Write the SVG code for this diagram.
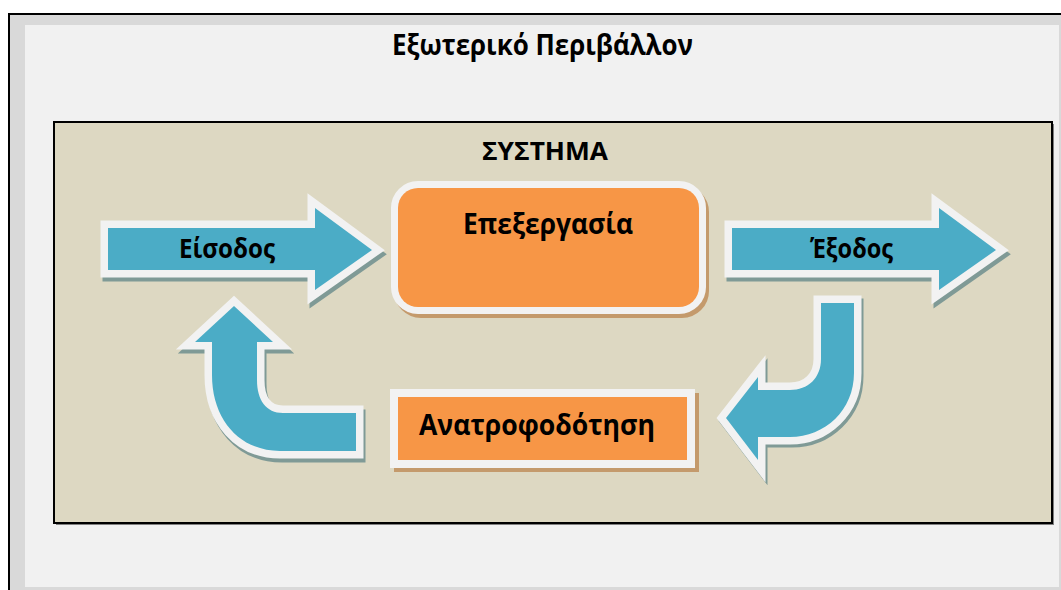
<svg xmlns="http://www.w3.org/2000/svg" width="1061" height="590" viewBox="0 0 1061 590">
  <style>
    .lbl { font-family: "Open Sans", "Noto Sans", "DejaVu Sans", sans-serif; font-weight: bold; fill: #000; }
    .arrow { fill: #4bacc6; stroke: #f2f2f2; stroke-width: 15; paint-order: stroke; stroke-linejoin: miter; stroke-miterlimit: 10; }
    .ashadow { fill: #7f9a96; stroke: #7f9a96; stroke-width: 15; stroke-linejoin: miter; stroke-miterlimit: 10; }
    .box { fill: #f79646; stroke: #f2f2f2; paint-order: stroke; }
    .bshadow { fill: #c49a6c; stroke: #c49a6c; }
  </style>
  <defs>
    <path id="straightArrow" d="M108,228 H315 V208 L372,250 L315,290 V270 H108 Z"/>
    <path id="curveLeft" d="M356,413 H283 C266,413 257,400 257,380 V342 H273 L234,306 L195,342 H212 V375 C212,420 240,451 280,451 H356 Z"/>
    <path id="curveRight" d="M821,303 H854 V373 C854,410 825,437 790,437 H758 V460 L726,418 L758,377 V390 H790 C808,390 821,378 821,359 Z"/>
  </defs>

  <!-- outer frame -->
  <g id="environment">
    <rect x="0" y="0" width="1061" height="590" fill="#ffffff"/>
    <rect x="9" y="14" width="1070" height="600" fill="#d9d9d9" stroke="#000" stroke-width="2"/>
    <rect x="25" y="25" width="1034" height="562" fill="#f1f1f1"/>
    <text class="lbl" x="542.5" y="55" font-size="28" text-anchor="middle" textLength="301" lengthAdjust="spacingAndGlyphs">Εξωτερικό Περιβάλλον</text>
  </g>

  <!-- system -->
  <g id="system">
    <rect x="56" y="124" width="998" height="401" fill="#808080"/>
    <rect x="54" y="122" width="998" height="401" fill="#ddd8c2" stroke="#000" stroke-width="2"/>
    <text class="lbl" x="545" y="160" font-size="25" text-anchor="middle" textLength="126" lengthAdjust="spacingAndGlyphs">ΣΥΣΤΗΜΑ</text>
  </g>

  <!-- input arrow -->
  <g id="input">
    <use href="#straightArrow" class="ashadow" transform="translate(2,4)"/>
    <use href="#straightArrow" class="arrow"/>
    <text class="lbl" x="227" y="258" font-size="26" text-anchor="middle" textLength="96" lengthAdjust="spacingAndGlyphs">Είσοδος</text>
  </g>

  <!-- processing -->
  <g id="processing">
    <rect x="401" y="192" width="301" height="119" rx="20" class="bshadow" stroke-width="14"/>
    <rect x="398" y="188" width="301" height="119" rx="20" class="box" stroke-width="14"/>
    <text class="lbl" x="548" y="234" font-size="29" text-anchor="middle" textLength="170" lengthAdjust="spacingAndGlyphs">Επεξεργασία</text>
  </g>

  <!-- output arrow -->
  <g id="output">
    <use href="#straightArrow" class="ashadow" transform="translate(626,4)"/>
    <use href="#straightArrow" class="arrow" transform="translate(624,0)"/>
    <text class="lbl" x="851.5" y="258" font-size="26" text-anchor="middle" textLength="83" lengthAdjust="spacingAndGlyphs">Έξοδος</text>
  </g>

  <!-- feedback -->
  <g id="feedback">
    <rect x="402" y="401" width="289" height="63" class="bshadow" stroke-width="16"/>
    <rect x="398" y="397" width="289" height="63" class="box" stroke-width="16"/>
    <text class="lbl" x="537" y="435" font-size="29" text-anchor="middle" textLength="236" lengthAdjust="spacingAndGlyphs">Ανατροφοδότηση</text>
  </g>

  <!-- connectors -->
  <g id="connectors">
    <use href="#curveRight" class="ashadow" transform="translate(2,3)"/>
    <use href="#curveRight" class="arrow"/>
    <use href="#curveLeft" class="ashadow" transform="translate(2,4)"/>
    <use href="#curveLeft" class="arrow"/>
  </g>
</svg>
